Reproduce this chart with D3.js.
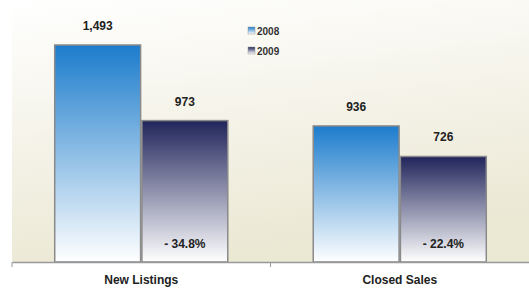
<!DOCTYPE html>
<html>
<head>
<meta charset="utf-8">
<script src="https://cdn.jsdelivr.net/npm/d3@7"></script>
<style>
  html, body { margin: 0; padding: 0; background: #fff; }
  svg { display: block; font-family: "Liberation Sans", Arial, sans-serif; }
</style>
</head>
<body>
<svg id="chart" width="529" height="291"></svg>
<script>
"use strict";

const categories = ["New Listings", "Closed Sales"];
const years = ["2008", "2009"];
const values2008 = [1493, 936];
const values2009 = [973, 726];
const changeLabels = ["- 34.8%", "- 22.4%"];

const plotLeft = 12;
const plotRight = 529;
const plotBottom = 262;

window.addEventListener("load", init);

function init() {
    const svg = d3.select("svg#chart");
    const defs = svg.append("defs");

    // background gradient, white at top to beige at bottom
    const bg = defs.append("linearGradient").attr("id", "bg")
        .attr("x1", 0).attr("y1", 0).attr("x2", 0.25).attr("y2", 1);
    bg.append("stop").attr("offset", "0%").attr("stop-color", "#ffffff");
    bg.append("stop").attr("offset", "100%").attr("stop-color", "#ebe8d4");

    const gradColors = { "2008": "#1c7ccc", "2009": "#20245a" };
    years.forEach(y => {
        const g = defs.append("linearGradient").attr("id", "g" + y)
            .attr("x1", 0).attr("y1", 0).attr("x2", 0).attr("y2", 1);
        g.append("stop").attr("offset", "0%").attr("stop-color", gradColors[y]);
        g.append("stop").attr("offset", "100%").attr("stop-color", "#ffffff");
    });

    svg.append("rect")
        .attr("x", plotLeft).attr("y", 0)
        .attr("width", plotRight - plotLeft).attr("height", plotBottom)
        .attr("fill", "url(#bg)");

    const xScale = d3.scaleBand()
        .domain(categories)
        .range([plotLeft, plotRight])
        .paddingInner(0)
        .paddingOuter(0);
    const sub = d3.scaleBand()
        .domain(years)
        .range([0, xScale.bandwidth()])
        .paddingInner(0.015)
        .paddingOuter(0.49);
    const yScale = d3.scaleLinear()
        .domain([0, 1600])
        .range([plotBottom, plotBottom - 1600 * (217 / 1493)]);

    const rows = [];
    categories.forEach((c, i) => {
        rows.push({ cat: c, year: "2008", value: values2008[i] });
        rows.push({ cat: c, year: "2009", value: values2009[i], change: changeLabels[i] });
    });

    const bars = svg.append("g");
    bars.selectAll("rect")
        .data(rows)
        .join("rect")
        .attr("x", d => xScale(d.cat) + sub(d.year))
        .attr("y", d => yScale(d.value))
        .attr("width", sub.bandwidth())
        .attr("height", d => plotBottom - yScale(d.value))
        .attr("fill", d => "url(#g" + d.year + ")")
        .attr("stroke", "#8a8a8a")
        .attr("stroke-width", 1.5);

    bars.selectAll("text.val")
        .data(rows)
        .join("text")
        .attr("class", "val")
        .attr("x", d => xScale(d.cat) + sub(d.year) + sub.bandwidth() / 2)
        .attr("y", d => yScale(d.value) - 15)
        .attr("text-anchor", "middle")
        .attr("font-size", 12)
        .attr("font-weight", "bold")
        .attr("fill", "#222")
        .text(d => d3.format(",")(d.value));

    bars.selectAll("text.chg")
        .data(rows.filter(d => d.change))
        .join("text")
        .attr("class", "chg")
        .attr("x", d => xScale(d.cat) + sub(d.year) + sub.bandwidth() / 2)
        .attr("y", plotBottom - 14)
        .attr("text-anchor", "middle")
        .attr("font-size", 12)
        .attr("font-weight", "bold")
        .attr("fill", "#222")
        .text(d => d.change);

    // x axis
    const axis = d3.axisBottom(xScale).tickSize(0).tickPadding(13);
    const ax = svg.append("g")
        .attr("transform", `translate(0,${plotBottom})`)
        .call(axis);
    ax.select(".domain").attr("stroke", "#999").attr("stroke-width", 1.5);
    ax.selectAll(".tick text")
        .attr("font-size", 12)
        .attr("font-weight", "bold")
        .attr("font-family", "Liberation Sans, Arial, sans-serif")
        .attr("fill", "#222");
    const edges = [plotLeft, xScale(categories[1])];
    ax.selectAll("line.edge")
        .data(edges)
        .join("line")
        .attr("class", "edge")
        .attr("x1", d => d).attr("x2", d => d)
        .attr("y1", 0).attr("y2", 5)
        .attr("stroke", "#999");

    // legend
    const legend = svg.append("g").attr("transform", "translate(248,27)");
    years.forEach((y, i) => {
        const row = legend.append("g").attr("transform", `translate(0,${i * 20})`);
        row.append("rect")
            .attr("x", 0).attr("y", 0).attr("width", 7).attr("height", 7)
            .attr("fill", "url(#g" + y + ")")
            .attr("stroke", "#999").attr("stroke-width", 0.5);
        row.append("text")
            .attr("x", 9).attr("y", 7.5)
            .attr("font-size", 10)
            .attr("font-weight", "bold")
            .attr("fill", "#333")
            .text(y);
    });
}
</script>
</body>
</html>
